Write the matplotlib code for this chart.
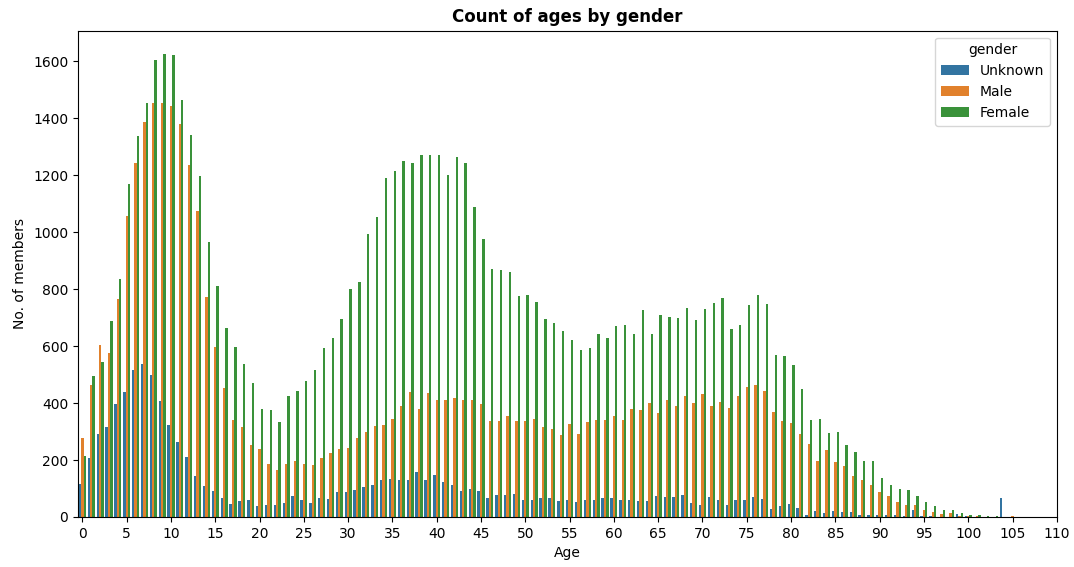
import matplotlib
matplotlib.use("Agg")
import matplotlib.pyplot as plt
import numpy as np

# Member counts per age (0-105) split by gender
ages = np.arange(0, 106)

unknown = [117, 206, 290, 316, 398, 439, 516, 536, 498, 406,
           324, 262, 209, 143, 110, 90, 65, 47, 56, 58,
           39, 43, 43, 50, 73, 61, 50, 65, 62, 87,
           87, 95, 105, 112, 131, 135, 131, 129, 158, 129,
           146, 124, 112, 90, 98, 90, 65, 76, 76, 82,
           61, 61, 65, 68, 56, 61, 54, 61, 61, 65,
           65, 61, 61, 57, 57, 75, 71, 71, 78, 49,
           42, 71, 61, 42, 61, 61, 71, 64, 28, 39,
           46, 30, 8, 20, 15, 20, 16, 16, 8, 8,
           8, 6, 6, 2, 23, 2, 2, 0, 0, 9,
           2, 0, 0, 0, 65, 0]

male = [277, 464, 605, 575, 764, 1056, 1241, 1386, 1453, 1453,
        1441, 1381, 1237, 1074, 772, 595, 454, 339, 316, 254,
        239, 187, 164, 187, 198, 187, 184, 208, 223, 239,
        242, 276, 298, 319, 324, 343, 391, 439, 379, 435,
        409, 412, 416, 412, 409, 398, 338, 338, 353, 336,
        338, 343, 316, 309, 287, 325, 291, 334, 339, 339,
        353, 339, 379, 375, 401, 364, 409, 391, 423, 401,
        430, 391, 405, 382, 423, 457, 464, 441, 367, 338,
        331, 290, 257, 198, 235, 194, 179, 143, 129, 112,
        87, 75, 54, 42, 42, 23, 16, 9, 13, 5,
        2, 4, 0, 0, 0, 3]

female = [213, 494, 545, 687, 837, 1167, 1337, 1453, 1605, 1626,
          1622, 1463, 1340, 1196, 964, 812, 665, 598, 538, 470,
          378, 374, 335, 423, 442, 478, 517, 594, 627, 694,
          800, 823, 993, 1053, 1188, 1215, 1248, 1242, 1271, 1271,
          1271, 1201, 1263, 1242, 1089, 974, 871, 867, 860, 774,
          778, 753, 696, 682, 653, 622, 587, 594, 642, 627,
          670, 675, 642, 727, 642, 709, 701, 697, 733, 690,
          730, 752, 767, 660, 675, 745, 779, 749, 567, 564,
          535, 449, 342, 345, 294, 297, 254, 227, 196, 196,
          138, 113, 97, 95, 75, 54, 39, 25, 23, 13,
          6, 6, 2, 2, 0, 0]

genders = ["Unknown", "Male", "Female"]
colors = ["#3274a1", "#e1812c", "#3a923a"]

fig = plt.figure(figsize=(10.74, 5.67), dpi=100)
ax = fig.add_axes([0.0726, 0.0882, 0.9114, 0.8578])

width = 0.8 / 3
for i, (name, counts, c) in enumerate(zip(genders, [unknown, male, female], colors)):
    offset = (i - 1) * width
    ax.bar(ages + offset, counts, width=width, color=c, label=name)

ax.set_xticks(np.arange(0, 111, 5))
ax.set_xlim(-0.5, 110)
ax.set_ylim(0, 1707)
ax.set_yticks(np.arange(0, 1601, 200))
ax.set_xlabel("Age")
ax.set_ylabel("No. of members")
ax.set_title("Count of ages by gender", fontweight="bold", fontsize=12)
ax.legend(title="gender", loc="upper right")

fig.savefig("out.png", dpi=100)
